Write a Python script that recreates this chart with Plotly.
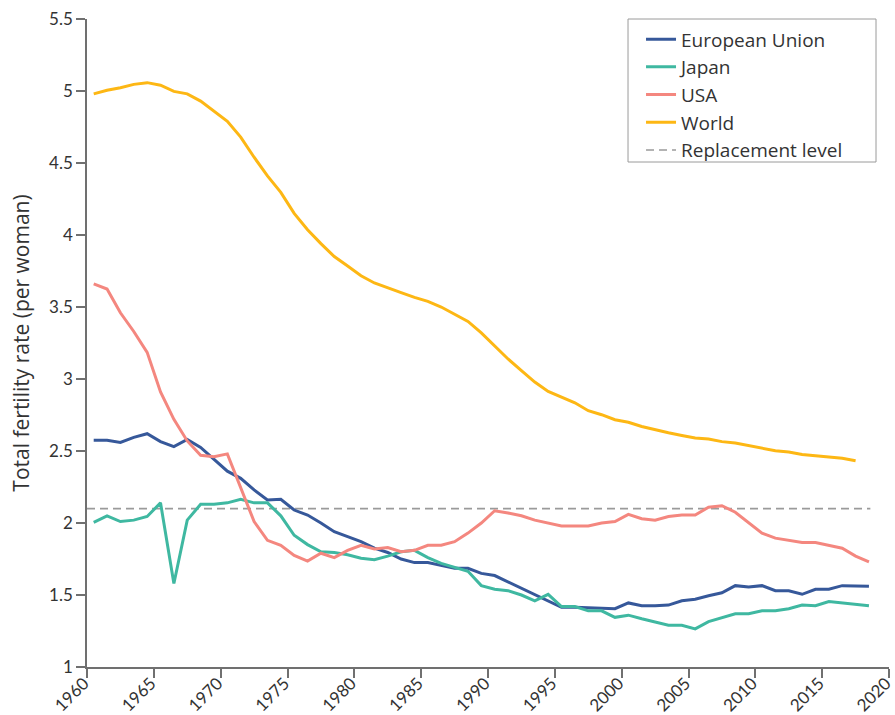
import plotly.graph_objects as go

years = list(range(1960, 2019))
world_years = list(range(1960, 2018))

eu = [2.575, 2.575, 2.56, 2.595, 2.62, 2.565, 2.53, 2.58, 2.525, 2.445,
      2.36, 2.31, 2.23, 2.16, 2.165, 2.09, 2.055, 2.00, 1.94, 1.905,
      1.87, 1.825, 1.795, 1.75, 1.725, 1.725, 1.705, 1.685, 1.685, 1.65,
      1.635, 1.59, 1.55, 1.50, 1.46, 1.415, 1.415, 1.41, 1.405, 1.405,
      1.445, 1.425, 1.425, 1.43, 1.46, 1.47, 1.495, 1.515, 1.565, 1.555,
      1.565, 1.53, 1.53, 1.505, 1.54, 1.54, 1.565, 1.56, 1.56]

japan = [2.005, 2.05, 2.01, 2.02, 2.045, 2.14, 1.58, 2.02, 2.13, 2.13,
         2.14, 2.165, 2.14, 2.14, 2.05, 1.915, 1.85, 1.80, 1.795, 1.78,
         1.755, 1.745, 1.77, 1.80, 1.81, 1.76, 1.72, 1.69, 1.665, 1.565,
         1.54, 1.53, 1.50, 1.46, 1.505, 1.42, 1.42, 1.39, 1.39, 1.345,
         1.36, 1.335, 1.315, 1.29, 1.29, 1.265, 1.315, 1.345, 1.37, 1.37,
         1.39, 1.39, 1.405, 1.43, 1.425, 1.455, 1.445, 1.435, 1.425]

usa = [3.66, 3.625, 3.46, 3.33, 3.185, 2.91, 2.72, 2.57, 2.47, 2.46,
       2.48, 2.25, 2.01, 1.88, 1.845, 1.775, 1.735, 1.79, 1.76, 1.81,
       1.845, 1.82, 1.83, 1.80, 1.81, 1.845, 1.845, 1.87, 1.93, 2.00,
       2.085, 2.07, 2.05, 2.02, 2.00, 1.98, 1.98, 1.98, 2.00, 2.01,
       2.06, 2.03, 2.02, 2.045, 2.055, 2.055, 2.11, 2.12, 2.075, 2.00,
       1.93, 1.895, 1.88, 1.865, 1.865, 1.845, 1.825, 1.77, 1.73]

world = [4.98, 5.005, 5.023, 5.046, 5.058, 5.04, 4.997, 4.98, 4.93, 4.863,
         4.79, 4.68, 4.54, 4.41, 4.296, 4.15, 4.037, 3.94, 3.85, 3.785,
         3.717, 3.667, 3.636, 3.60, 3.567, 3.539, 3.50, 3.451, 3.40, 3.32,
         3.231, 3.139, 3.058, 2.979, 2.914, 2.872, 2.835, 2.78, 2.752, 2.717,
         2.70, 2.67, 2.646, 2.627, 2.608, 2.59, 2.583, 2.565, 2.555, 2.537,
         2.518, 2.502, 2.493, 2.476, 2.467, 2.458, 2.45, 2.433]

replacement_level = 2.1

series_names = ["European Union", "Japan", "USA", "World"]
series_colors = ["#36589a", "#3fb8a1", "#f4877f", "#fdb714"]

x_tick_years = [1960, 1965, 1970, 1975, 1980, 1985, 1990, 1995, 2000, 2005, 2010, 2015, 2020]
y_ticks = [1, 1.5, 2, 2.5, 3, 3.5, 4, 4.5, 5, 5.5]
y_tick_labels = ["1", "1.5", "2", "2.5", "3", "3.5", "4", "4.5", "5", "5.5"]


def mid_year(ys):
    # annual values are plotted at mid-year
    return [f"{y}-07-02" for y in ys]


fig = go.Figure()

# replacement level spans the data period
fig.add_trace(go.Scatter(
    x=[f"{years[0]}-01-01", f"{years[-1]}-08-10"],
    y=[replacement_level, replacement_level],
    mode="lines", name="Replacement level",
    line=dict(color="#9a9a9a", width=1.6, dash="8px,5px"),
    legendrank=5, hoverinfo="skip"))

data = [(years, eu), (years, japan), (years, usa), (world_years, world)]
for i, (name, color, (xs, ys)) in enumerate(zip(series_names, series_colors, data)):
    fig.add_trace(go.Scatter(
        x=mid_year(xs), y=ys, mode="lines", name=name,
        line=dict(color=color, width=3),
        legendrank=i + 1))

axis_col = "#707070"
fig.update_layout(
    width=895, height=715,
    margin=dict(l=87, r=6, t=19, b=48, autoexpand=False),
    paper_bgcolor="white", plot_bgcolor="white",
    font=dict(family="Lato", color="#333333"),
    showlegend=True,
    legend=dict(
        x=0.6908, y=0.998, xanchor="left", yanchor="top",
        borderwidth=0, bgcolor="rgba(0,0,0,0)",
        font=dict(family="Open Sans", size=19, color="#333333"),
        tracegroupgap=0, itemwidth=30,
    ),
    shapes=[dict(
        type="rect", xref="paper", yref="paper",
        x0=0.6746, x1=0.9838, y0=0.7793, y1=1.0,
        line=dict(color="#9a9a9a", width=1), fillcolor="white", layer="above",
    )],
    xaxis=dict(
        type="date",
        range=["1960-01-01", "2020-01-01"],
        tickvals=[f"{y}-01-01" for y in x_tick_years],
        ticktext=[str(y) for y in x_tick_years],
        tickangle=-45,
        automargin=False,
        ticklabeloverflow="allow",
        ticklabelstandoff=-11,
        ticklabelshift=-3,
        showgrid=False, zeroline=False,
        showline=True, linecolor=axis_col, linewidth=1.5,
        ticks="outside", ticklen=9, tickcolor=axis_col, tickwidth=1.5,
        tickfont=dict(family="Lato", size=17, color="#333333"),
    ),
    yaxis=dict(
        range=[1, 5.5],
        tickvals=y_ticks, ticktext=y_tick_labels,
        automargin=False,
        showgrid=False, zeroline=False,
        showline=True, linecolor=axis_col, linewidth=1.5,
        ticks="outside", ticklen=9, tickcolor=axis_col, tickwidth=1.5,
        tickfont=dict(family="Lato", size=17, color="#333333"),
        title=dict(text="Total fertility rate (per woman)",
                   font=dict(family="Open Sans", size=21, color="#333333"),
                   standoff=14),
    ),
)

fig.write_html("out.html", config={"displayModeBar": False},
               post_script="document.body.style.margin='0';")
